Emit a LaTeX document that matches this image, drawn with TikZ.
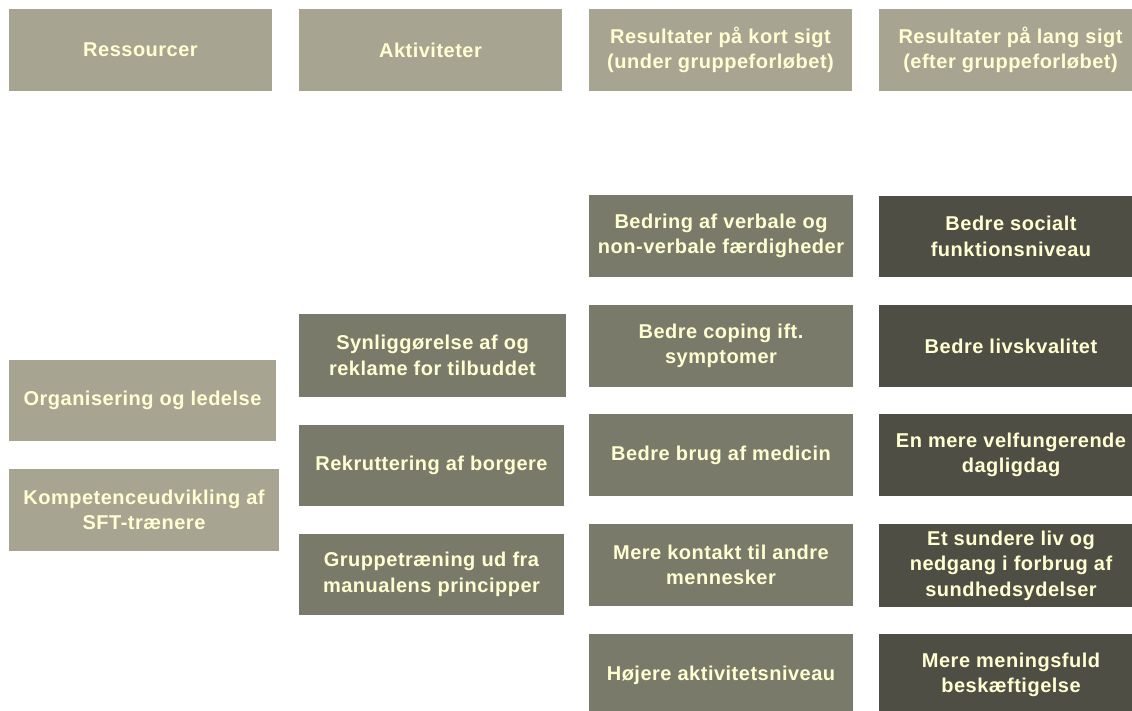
\documentclass[tikz,border=0pt]{standalone}
\usepackage{fontspec}
\setmainfont{Liberation Sans}[LetterSpace=2.5]
\definecolor{lightbox}{HTML}{A7A591}
\definecolor{midbox}{HTML}{7A7A6A}
\definecolor{darkbox}{HTML}{4F4E44}
\definecolor{cream}{HTML}{FFFFD2}
\tikzset{
  basebox/.style={rectangle, inner sep=0pt, align=center, text=cream,
    font=\bfseries\fontsize{20}{25.5}\selectfont},
  lightnode/.style={basebox, fill=lightbox},
  midnode/.style={basebox, fill=midbox},
  darknode/.style={basebox, fill=darkbox},
}
\begin{document}
\begin{tikzpicture}[x=1pt,y=-1pt]
\useasboundingbox (0,0) rectangle (1132,711);
\clip (0,0) rectangle (1132,711);
% headers
\node[lightnode, minimum width=263pt, minimum height=82pt] (h1) at (140.5,50) {Ressourcer};
\node[lightnode, minimum width=263pt, minimum height=82pt] (h2) at (430.5,50) {Aktiviteter};
\node[lightnode, minimum width=263pt, minimum height=82pt] (h3) at (720.5,50) {Resultater på kort sigt\\(under gruppeforløbet)};
\node[lightnode, minimum width=263pt, minimum height=82pt] (h4) at (1010.5,50) {Resultater på lang sigt\\(efter gruppeforløbet)};
% resources
\node[lightnode, minimum width=267pt, minimum height=81pt] (r1) at (142.5,400.5) {Organisering og ledelse};
\node[lightnode, minimum width=270pt, minimum height=82pt] (r2) at (144,510) {Kompetenceudvikling af\\SFT-trænere};
% activities
\node[midnode, minimum width=267pt, minimum height=83pt] (a1) at (432.5,355.5) {Synliggørelse af og\\reklame for tilbuddet};
\node[midnode, minimum width=265pt, minimum height=81pt] (a2) at (431.5,465.5) {Rekruttering af borgere};
\node[midnode, minimum width=265pt, minimum height=81pt] (a3) at (431.5,574.5) {Gruppetræning ud fra\\manualens principper};
% short term
\node[midnode, minimum width=264pt, minimum height=82pt] (s1) at (721,236) {Bedring af verbale og\\non-verbale færdigheder};
\node[midnode, minimum width=264pt, minimum height=82pt] (s2) at (721,346) {Bedre coping ift.\\symptomer};
\node[midnode, minimum width=264pt, minimum height=82pt] (s3) at (721,455) {Bedre brug af medicin};
\node[midnode, minimum width=264pt, minimum height=82pt] (s4) at (721,565) {Mere kontakt til andre\\mennesker};
\node[midnode, minimum width=264pt, minimum height=82pt] (s5) at (721,675) {Højere aktivitetsniveau};
% long term
\node[darknode, minimum width=264pt, minimum height=81pt] (l1) at (1011,236.5) {Bedre socialt\\funktionsniveau};
\node[darknode, minimum width=264pt, minimum height=82pt] (l2) at (1011,346) {Bedre livskvalitet};
\node[darknode, minimum width=264pt, minimum height=82pt] (l3) at (1011,455) {En mere velfungerende\\dagligdag};
\node[darknode, minimum width=264pt, minimum height=83pt] (l4) at (1011,565.5) {Et sundere liv og\\nedgang i forbrug af\\sundhedsydelser};
\node[darknode, minimum width=264pt, minimum height=82pt] (l5) at (1011,675) {Mere meningsfuld\\beskæftigelse};
\end{tikzpicture}
\end{document}
